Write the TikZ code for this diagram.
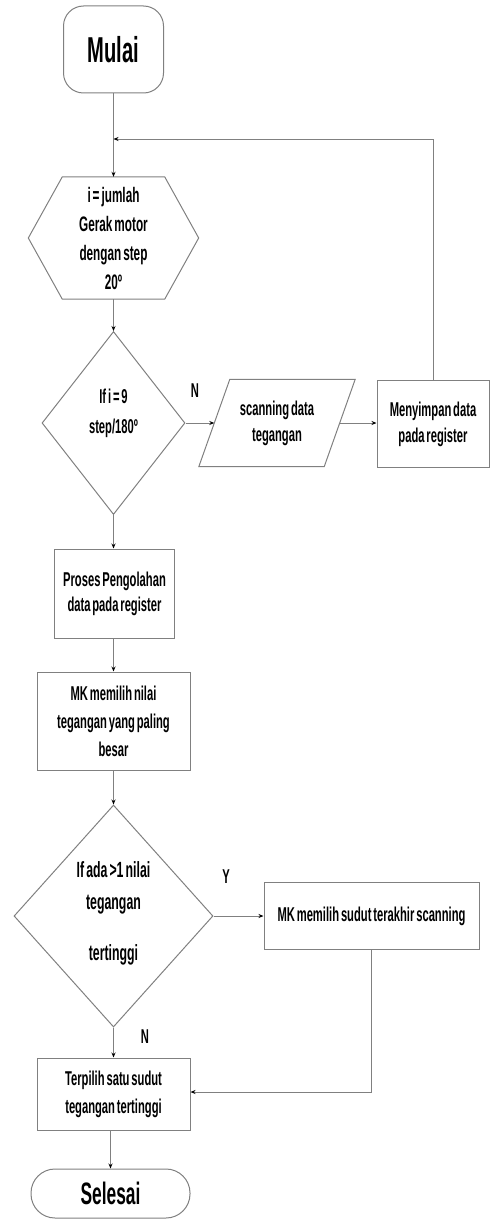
\documentclass[tikz,border=0pt]{standalone}
\usepackage{fontspec}
\newfontfamily\nar{Liberation Sans}[FakeStretch=0.56,WordSpace=0.6]
\usetikzlibrary{arrows.meta,shapes.geometric}
\definecolor{linegray}{RGB}{128,128,128}
\begin{document}
\begin{tikzpicture}[x=1pt,y=-1pt,
  line/.style={draw=linegray, line width=1pt},
  arr/.style={line, -{Stealth[length=5pt,width=4pt,color=black]}},
  txt/.style={font=\nar\bfseries\fontsize{20}{28}\selectfont, align=center, inner sep=0pt, text=black},
  box/.style={txt, draw=linegray, line width=1pt, rectangle},
  dec/.style={draw=linegray, line width=1pt, diamond, inner sep=0pt},
  lbl/.style={font=\nar\bfseries\fontsize{20}{24}\selectfont, inner sep=0pt, text=black}
]
\useasboundingbox (0,0) rectangle (490,1220);

% nodes
\node[box, rounded corners=20pt, minimum width=100pt, minimum height=87pt,
      font=\nar\bfseries\fontsize{36}{40}\selectfont] (mulai) at (113.5,49.5) {Mulai};

\node[txt, font=\nar\bfseries\fontsize{21}{29}\selectfont,
      minimum width=170pt, minimum height=122pt] (hex) at (113.5,238) {i = jumlah\\Gerak motor\\dengan step\\20º};
\draw[line] (hex.west) -- ([xshift=34pt]hex.north west) -- ([xshift=-34pt]hex.north east)
  -- (hex.east) -- ([xshift=-34pt]hex.south east) -- ([xshift=34pt]hex.south west) -- cycle;

\node[dec, minimum width=143pt, minimum height=183pt] (d1) at (113.5,423) {};
\node[txt, font=\nar\bfseries\fontsize{20}{30}\selectfont] (d1t) at (113.5,413) {If i = 9\\step/180º};

\node[txt, font=\nar\bfseries\fontsize{20}{26}\selectfont,
      minimum width=156pt, minimum height=87pt] (scan) at (277,423) {scanning data\\tegangan};
\draw[line] ([xshift=31pt]scan.north west) -- (scan.north east) -- ([xshift=-31pt]scan.south east)
  -- (scan.south west) -- cycle;

\node[box, font=\nar\bfseries\fontsize{20}{26}\selectfont,
      minimum width=112pt, minimum height=87pt] (simpan) at (433,424) {Menyimpan data\\pada register};

\node[box, font=\nar\bfseries\fontsize{20}{25}\selectfont,
      minimum width=120pt, minimum height=89pt] (proses) at (114.5,593.5) {Proses Pengolahan\\data pada register};

\node[box, minimum width=153pt, minimum height=98pt] (mkbesar) at (113.5,721) {MK memilih nilai\\tegangan yang paling\\besar};

\node[dec, minimum width=199pt, minimum height=222pt] (d2) at (113.5,916) {};
\node[txt, font=\nar\bfseries\fontsize{22}{32}\selectfont] (d2t) at (113.5,913) {If ada >1 nilai\\tegangan\\[19pt]tertinggi};

\node[box, minimum width=215pt, minimum height=67pt] (pilih) at (371.5,916) {MK memilih sudut terakhir scanning};

\node[box, minimum width=153pt, minimum height=72pt] (terpilih) at (113.5,1094) {Terpilih satu sudut\\tegangan tertinggi};

\node[box, rounded corners=24pt, minimum width=159pt, minimum height=49pt,
      font=\nar\bfseries\fontsize{31}{34}\selectfont] (selesai) at (110.5,1193.5) {Selesai};

% labels
\node[lbl] (lN1) at (195,391) {N};
\node[lbl] (lY) at (226,877) {Y};
\node[lbl] (lN2) at (145,1037) {N};

% connectors
\coordinate (j1) at (113.5,139);
\draw[arr] (mulai.south) -- (hex.north);
\draw[arr] (simpan.north) |- (j1);
\draw[arr] (hex.south) -- (d1.north);
\draw[arr] (d1.east) -- ([xshift=15.5pt]scan.west);
\draw[arr] ([xshift=-15.5pt]scan.east) -- (simpan.west |- scan.east);
\draw[arr] (d1.south) -- (d1.south |- proses.north);
\draw[arr] (proses.south -| mkbesar.north) -- (mkbesar.north);
\draw[arr] (mkbesar.south) -- (d2.north);
\draw[arr] (d2.east) -- (pilih.west);
\draw[arr] (d2.south) -- (terpilih.north);
\draw[arr] (pilih.south) |- ([yshift=2pt]terpilih.east);
\draw[arr] (terpilih.south -| selesai.north) -- (selesai.north);
\end{tikzpicture}
\end{document}
